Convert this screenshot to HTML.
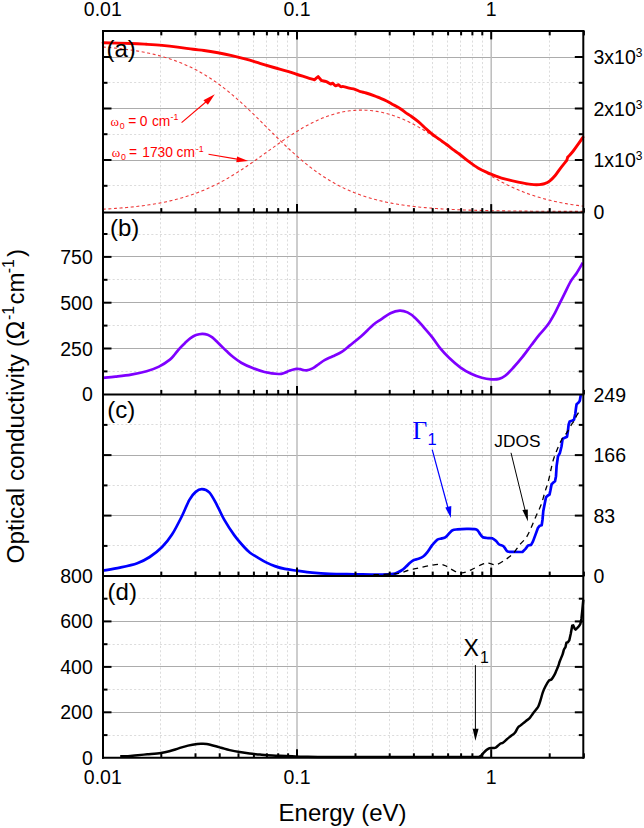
<!DOCTYPE html><html><head><meta charset="utf-8"><style>
*{margin:0;padding:0}
html,body{width:644px;height:828px;background:#fff;overflow:hidden}
svg{display:block;font-family:"Liberation Sans",sans-serif}
.gd{stroke:#dcdcdc;stroke-width:1;stroke-dasharray:2.1 2.2;fill:none}
.gs{stroke:#acacac;stroke-width:1;fill:none}
.gv{stroke:#bcbcbc;stroke-width:1.5;fill:none}
.rd{stroke:#ee3a3a;stroke-width:1.1;stroke-dasharray:3 2.6;fill:none}
.rs{stroke:#f00;stroke-width:2.9;fill:none;stroke-linejoin:round;stroke-linecap:round}
.pu{stroke:#7f00ff;stroke-width:2.7;fill:none;stroke-linejoin:round}
.bl{stroke:#0000ff;stroke-width:2.7;fill:none;stroke-linejoin:round}
.jd{stroke:#000;stroke-width:1.3;stroke-dasharray:5.5 4.5;fill:none}
.bk{stroke:#000;stroke-width:2.5;fill:none;stroke-linejoin:round}
</style></head><body><svg width="644" height="828" viewBox="0 0 644 828"><g><line x1="160.5" y1="31.9" x2="160.5" y2="211.6" class="gd"/><line x1="195.5" y1="31.9" x2="195.5" y2="211.6" class="gd"/><line x1="219.5" y1="31.9" x2="219.5" y2="211.6" class="gd"/><line x1="238.5" y1="31.9" x2="238.5" y2="211.6" class="gd"/><line x1="253.5" y1="31.9" x2="253.5" y2="211.6" class="gd"/><line x1="266.5" y1="31.9" x2="266.5" y2="211.6" class="gd"/><line x1="277.5" y1="31.9" x2="277.5" y2="211.6" class="gd"/><line x1="287.5" y1="31.9" x2="287.5" y2="211.6" class="gd"/><line x1="355.5" y1="31.9" x2="355.5" y2="211.6" class="gd"/><line x1="389.5" y1="31.9" x2="389.5" y2="211.6" class="gd"/><line x1="413.5" y1="31.9" x2="413.5" y2="211.6" class="gd"/><line x1="432.5" y1="31.9" x2="432.5" y2="211.6" class="gd"/><line x1="447.5" y1="31.9" x2="447.5" y2="211.6" class="gd"/><line x1="460.5" y1="31.9" x2="460.5" y2="211.6" class="gd"/><line x1="472.5" y1="31.9" x2="472.5" y2="211.6" class="gd"/><line x1="482.5" y1="31.9" x2="482.5" y2="211.6" class="gd"/><line x1="549.5" y1="31.9" x2="549.5" y2="211.6" class="gd"/><line x1="583.5" y1="31.9" x2="583.5" y2="211.6" class="gd"/><line x1="160.5" y1="213.6" x2="160.5" y2="393.4" class="gd"/><line x1="195.5" y1="213.6" x2="195.5" y2="393.4" class="gd"/><line x1="219.5" y1="213.6" x2="219.5" y2="393.4" class="gd"/><line x1="238.5" y1="213.6" x2="238.5" y2="393.4" class="gd"/><line x1="253.5" y1="213.6" x2="253.5" y2="393.4" class="gd"/><line x1="266.5" y1="213.6" x2="266.5" y2="393.4" class="gd"/><line x1="277.5" y1="213.6" x2="277.5" y2="393.4" class="gd"/><line x1="287.5" y1="213.6" x2="287.5" y2="393.4" class="gd"/><line x1="355.5" y1="213.6" x2="355.5" y2="393.4" class="gd"/><line x1="389.5" y1="213.6" x2="389.5" y2="393.4" class="gd"/><line x1="413.5" y1="213.6" x2="413.5" y2="393.4" class="gd"/><line x1="432.5" y1="213.6" x2="432.5" y2="393.4" class="gd"/><line x1="447.5" y1="213.6" x2="447.5" y2="393.4" class="gd"/><line x1="460.5" y1="213.6" x2="460.5" y2="393.4" class="gd"/><line x1="472.5" y1="213.6" x2="472.5" y2="393.4" class="gd"/><line x1="482.5" y1="213.6" x2="482.5" y2="393.4" class="gd"/><line x1="549.5" y1="213.6" x2="549.5" y2="393.4" class="gd"/><line x1="583.5" y1="213.6" x2="583.5" y2="393.4" class="gd"/><line x1="160.5" y1="395.4" x2="160.5" y2="575.1" class="gd"/><line x1="195.5" y1="395.4" x2="195.5" y2="575.1" class="gd"/><line x1="219.5" y1="395.4" x2="219.5" y2="575.1" class="gd"/><line x1="238.5" y1="395.4" x2="238.5" y2="575.1" class="gd"/><line x1="253.5" y1="395.4" x2="253.5" y2="575.1" class="gd"/><line x1="266.5" y1="395.4" x2="266.5" y2="575.1" class="gd"/><line x1="277.5" y1="395.4" x2="277.5" y2="575.1" class="gd"/><line x1="287.5" y1="395.4" x2="287.5" y2="575.1" class="gd"/><line x1="355.5" y1="395.4" x2="355.5" y2="575.1" class="gd"/><line x1="389.5" y1="395.4" x2="389.5" y2="575.1" class="gd"/><line x1="413.5" y1="395.4" x2="413.5" y2="575.1" class="gd"/><line x1="432.5" y1="395.4" x2="432.5" y2="575.1" class="gd"/><line x1="447.5" y1="395.4" x2="447.5" y2="575.1" class="gd"/><line x1="460.5" y1="395.4" x2="460.5" y2="575.1" class="gd"/><line x1="472.5" y1="395.4" x2="472.5" y2="575.1" class="gd"/><line x1="482.5" y1="395.4" x2="482.5" y2="575.1" class="gd"/><line x1="549.5" y1="395.4" x2="549.5" y2="575.1" class="gd"/><line x1="583.5" y1="395.4" x2="583.5" y2="575.1" class="gd"/><line x1="160.5" y1="577.1" x2="160.5" y2="756.8" class="gd"/><line x1="195.5" y1="577.1" x2="195.5" y2="756.8" class="gd"/><line x1="219.5" y1="577.1" x2="219.5" y2="756.8" class="gd"/><line x1="238.5" y1="577.1" x2="238.5" y2="756.8" class="gd"/><line x1="253.5" y1="577.1" x2="253.5" y2="756.8" class="gd"/><line x1="266.5" y1="577.1" x2="266.5" y2="756.8" class="gd"/><line x1="277.5" y1="577.1" x2="277.5" y2="756.8" class="gd"/><line x1="287.5" y1="577.1" x2="287.5" y2="756.8" class="gd"/><line x1="355.5" y1="577.1" x2="355.5" y2="756.8" class="gd"/><line x1="389.5" y1="577.1" x2="389.5" y2="756.8" class="gd"/><line x1="413.5" y1="577.1" x2="413.5" y2="756.8" class="gd"/><line x1="432.5" y1="577.1" x2="432.5" y2="756.8" class="gd"/><line x1="447.5" y1="577.1" x2="447.5" y2="756.8" class="gd"/><line x1="460.5" y1="577.1" x2="460.5" y2="756.8" class="gd"/><line x1="472.5" y1="577.1" x2="472.5" y2="756.8" class="gd"/><line x1="482.5" y1="577.1" x2="482.5" y2="756.8" class="gd"/><line x1="549.5" y1="577.1" x2="549.5" y2="756.8" class="gd"/><line x1="583.5" y1="577.1" x2="583.5" y2="756.8" class="gd"/><line x1="104.0" y1="185.5" x2="582.3" y2="185.5" class="gd"/><line x1="104.0" y1="134.5" x2="582.3" y2="134.5" class="gd"/><line x1="104.0" y1="82.5" x2="582.3" y2="82.5" class="gd"/><line x1="104.0" y1="371.5" x2="582.3" y2="371.5" class="gd"/><line x1="104.0" y1="325.5" x2="582.3" y2="325.5" class="gd"/><line x1="104.0" y1="279.5" x2="582.3" y2="279.5" class="gd"/><line x1="104.0" y1="234.5" x2="582.3" y2="234.5" class="gd"/><line x1="104.0" y1="545.5" x2="582.3" y2="545.5" class="gd"/><line x1="104.0" y1="485.5" x2="582.3" y2="485.5" class="gd"/><line x1="104.0" y1="424.5" x2="582.3" y2="424.5" class="gd"/><line x1="104.0" y1="735.5" x2="582.3" y2="735.5" class="gd"/><line x1="104.0" y1="689.5" x2="582.3" y2="689.5" class="gd"/><line x1="104.0" y1="644.5" x2="582.3" y2="644.5" class="gd"/><line x1="104.0" y1="598.5" x2="582.3" y2="598.5" class="gd"/><line x1="104.0" y1="160.5" x2="582.3" y2="160.5" class="gs"/><line x1="104.0" y1="108.5" x2="582.3" y2="108.5" class="gs"/><line x1="104.0" y1="57.5" x2="582.3" y2="57.5" class="gs"/><line x1="104.0" y1="348.5" x2="582.3" y2="348.5" class="gs"/><line x1="104.0" y1="302.5" x2="582.3" y2="302.5" class="gs"/><line x1="104.0" y1="256.5" x2="582.3" y2="256.5" class="gs"/><line x1="104.0" y1="515.5" x2="582.3" y2="515.5" class="gs"/><line x1="104.0" y1="455.5" x2="582.3" y2="455.5" class="gs"/><line x1="104.0" y1="712.5" x2="582.3" y2="712.5" class="gs"/><line x1="104.0" y1="666.5" x2="582.3" y2="666.5" class="gs"/><line x1="104.0" y1="621.5" x2="582.3" y2="621.5" class="gs"/><line x1="297.0" y1="31.9" x2="297.0" y2="211.6" class="gv"/><line x1="491.2" y1="31.9" x2="491.2" y2="211.6" class="gv"/><line x1="297.0" y1="213.6" x2="297.0" y2="393.4" class="gv"/><line x1="491.2" y1="213.6" x2="491.2" y2="393.4" class="gv"/><line x1="297.0" y1="395.4" x2="297.0" y2="575.1" class="gv"/><line x1="491.2" y1="395.4" x2="491.2" y2="575.1" class="gv"/><line x1="297.0" y1="577.1" x2="297.0" y2="756.8" class="gv"/><line x1="491.2" y1="577.1" x2="491.2" y2="756.8" class="gv"/></g><path d="M102.80,46.96 L104.40,47.09 L106.01,47.22 L107.61,47.35 L109.21,47.50 L110.82,47.64 L112.42,47.80 L114.02,47.95 L115.63,48.12 L117.23,48.29 L118.84,48.46 L120.44,48.65 L122.04,48.83 L123.65,49.03 L125.25,49.23 L126.85,49.44 L128.46,49.66 L130.06,49.89 L131.66,50.12 L133.27,50.36 L134.87,50.61 L136.47,50.87 L138.08,51.14 L139.68,51.42 L141.28,51.71 L142.89,52.01 L144.49,52.32 L146.10,52.64 L147.70,52.97 L149.30,53.31 L150.91,53.66 L152.51,54.03 L154.11,54.40 L155.72,54.79 L157.32,55.20 L158.92,55.62 L160.53,56.05 L162.13,56.49 L163.73,56.95 L165.34,57.42 L166.94,57.91 L168.54,58.42 L170.15,58.94 L171.75,59.48 L173.36,60.03 L174.96,60.61 L176.56,61.20 L178.17,61.80 L179.77,62.43 L181.37,63.08 L182.98,63.74 L184.58,64.42 L186.18,65.13 L187.79,65.85 L189.39,66.59 L190.99,67.36 L192.60,68.14 L194.20,68.95 L195.80,69.78 L197.41,70.63 L199.01,71.50 L200.61,72.40 L202.22,73.32 L203.82,74.26 L205.43,75.22 L207.03,76.21 L208.63,77.22 L210.24,78.26 L211.84,79.31 L213.44,80.39 L215.05,81.50 L216.65,82.63 L218.25,83.78 L219.86,84.95 L221.46,86.15 L223.06,87.36 L224.67,88.61 L226.27,89.87 L227.87,91.15 L229.48,92.46 L231.08,93.79 L232.69,95.14 L234.29,96.50 L235.89,97.89 L237.50,99.30 L239.10,100.72 L240.70,102.16 L242.31,103.62 L243.91,105.10 L245.51,106.58 L247.12,108.09 L248.72,109.60 L250.32,111.13 L251.93,112.67 L253.53,114.22 L255.13,115.79 L256.74,117.35 L258.34,118.93 L259.95,120.51 L261.55,122.10 L263.15,123.69 L264.76,125.28 L266.36,126.88 L267.96,128.48 L269.57,130.07 L271.17,131.66 L272.77,133.25 L274.38,134.84 L275.98,136.42 L277.58,138.00 L279.19,139.56 L280.79,141.12 L282.39,142.67 L284.00,144.21 L285.60,145.74 L287.21,147.25 L288.81,148.75 L290.41,150.24 L292.02,151.71 L293.62,153.17 L295.22,154.61 L296.83,156.03 L298.43,157.43 L300.03,158.82 L301.64,160.18 L303.24,161.53 L304.84,162.85 L306.45,164.15 L308.05,165.44 L309.65,166.70 L311.26,167.93 L312.86,169.15 L314.47,170.34 L316.07,171.51 L317.67,172.66 L319.28,173.78 L320.88,174.88 L322.48,175.96 L324.09,177.01 L325.69,178.04 L327.29,179.05 L328.90,180.03 L330.50,181.00 L332.10,181.93 L333.71,182.85 L335.31,183.74 L336.91,184.61 L338.52,185.46 L340.12,186.28 L341.72,187.09 L343.33,187.87 L344.93,188.63 L346.54,189.37 L348.14,190.09 L349.74,190.79 L351.35,191.47 L352.95,192.13 L354.55,192.78 L356.16,193.40 L357.76,194.00 L359.36,194.59 L360.97,195.16 L362.57,195.71 L364.17,196.25 L365.78,196.77 L367.38,197.27 L368.98,197.76 L370.59,198.23 L372.19,198.69 L373.80,199.13 L375.40,199.56 L377.00,199.97 L378.61,200.38 L380.21,200.76 L381.81,201.14 L383.42,201.50 L385.02,201.86 L386.62,202.20 L388.23,202.52 L389.83,202.84 L391.43,203.15 L393.04,203.45 L394.64,203.73 L396.24,204.01 L397.85,204.28 L399.45,204.53 L401.06,204.78 L402.66,205.03 L404.26,205.26 L405.87,205.48 L407.47,205.70 L409.07,205.91 L410.68,206.11 L412.28,206.31 L413.88,206.49 L415.49,206.67 L417.09,206.85 L418.69,207.02 L420.30,207.18 L421.90,207.34 L423.50,207.49 L425.11,207.64 L426.71,207.78 L428.32,207.91 L429.92,208.04 L431.52,208.17 L433.13,208.29 L434.73,208.41 L436.33,208.52 L437.94,208.63 L439.54,208.74 L441.14,208.84 L442.75,208.94 L444.35,209.03 L445.95,209.12 L447.56,209.21 L449.16,209.29 L450.76,209.37 L452.37,209.45 L453.97,209.53 L455.58,209.60 L457.18,209.67 L458.78,209.74 L460.39,209.80 L461.99,209.87 L463.59,209.93 L465.20,209.99 L466.80,210.04 L468.40,210.10 L470.01,210.15 L471.61,210.20 L473.21,210.25 L474.82,210.29 L476.42,210.34 L478.02,210.38 L479.63,210.42 L481.23,210.46 L482.83,210.50 L484.44,210.54 L486.04,210.57 L487.65,210.61 L489.25,210.64 L490.85,210.67 L492.46,210.70 L494.06,210.73 L495.66,210.76 L497.27,210.79 L498.87,210.81 L500.47,210.84 L502.08,210.86 L503.68,210.89 L505.28,210.91 L506.89,210.93 L508.49,210.95 L510.09,210.97 L511.70,210.99 L513.30,211.01 L514.91,211.03 L516.51,211.05 L518.11,211.07 L519.72,211.08 L521.32,211.10 L522.92,211.11 L524.53,211.13 L526.13,211.14 L527.73,211.15 L529.34,211.17 L530.94,211.18 L532.54,211.19 L534.15,211.20 L535.75,211.21 L537.35,211.22 L538.96,211.23 L540.56,211.24 L542.17,211.25 L543.77,211.26 L545.37,211.27 L546.98,211.28 L548.58,211.29 L550.18,211.30 L551.79,211.30 L553.39,211.31 L554.99,211.32 L556.60,211.33 L558.20,211.33 L559.80,211.34 L561.41,211.34 L563.01,211.35 L564.61,211.36 L566.22,211.36 L567.82,211.37 L569.43,211.37 L571.03,211.38 L572.63,211.38 L574.24,211.38 L575.84,211.39 L577.44,211.39 L579.05,211.40 L580.65,211.40 L582.25,211.40 L583.86,211.41" class="rd"/><path d="M102.80,209.20 L104.40,209.11 L106.01,209.02 L107.61,208.92 L109.21,208.83 L110.82,208.72 L112.42,208.62 L114.02,208.51 L115.63,208.40 L117.23,208.28 L118.84,208.16 L120.44,208.03 L122.04,207.90 L123.65,207.77 L125.25,207.63 L126.85,207.48 L128.46,207.33 L130.06,207.18 L131.66,207.01 L133.27,206.85 L134.87,206.67 L136.47,206.49 L138.08,206.31 L139.68,206.11 L141.28,205.92 L142.89,205.71 L144.49,205.50 L146.10,205.27 L147.70,205.05 L149.30,204.81 L150.91,204.56 L152.51,204.31 L154.11,204.05 L155.72,203.78 L157.32,203.50 L158.92,203.21 L160.53,202.91 L162.13,202.60 L163.73,202.28 L165.34,201.95 L166.94,201.61 L168.54,201.26 L170.15,200.89 L171.75,200.52 L173.36,200.13 L174.96,199.73 L176.56,199.32 L178.17,198.90 L179.77,198.46 L181.37,198.01 L182.98,197.55 L184.58,197.07 L186.18,196.58 L187.79,196.07 L189.39,195.55 L190.99,195.01 L192.60,194.46 L194.20,193.89 L195.80,193.31 L197.41,192.71 L199.01,192.10 L200.61,191.47 L202.22,190.82 L203.82,190.16 L205.43,189.48 L207.03,188.78 L208.63,188.06 L210.24,187.33 L211.84,186.58 L213.44,185.82 L215.05,185.04 L216.65,184.24 L218.25,183.42 L219.86,182.58 L221.46,181.73 L223.06,180.87 L224.67,179.98 L226.27,179.08 L227.87,178.16 L229.48,177.23 L231.08,176.28 L232.69,175.31 L234.29,174.33 L235.89,173.34 L237.50,172.33 L239.10,171.30 L240.70,170.27 L242.31,169.22 L243.91,168.16 L245.51,167.08 L247.12,166.00 L248.72,164.90 L250.32,163.80 L251.93,162.68 L253.53,161.56 L255.13,160.43 L256.74,159.30 L258.34,158.16 L259.95,157.01 L261.55,155.86 L263.15,154.70 L264.76,153.55 L266.36,152.39 L267.96,151.23 L269.57,150.08 L271.17,148.92 L272.77,147.77 L274.38,146.62 L275.98,145.47 L277.58,144.33 L279.19,143.20 L280.79,142.07 L282.39,140.96 L284.00,139.85 L285.60,138.75 L287.21,137.66 L288.81,136.59 L290.41,135.53 L292.02,134.48 L293.62,133.45 L295.22,132.43 L296.83,131.42 L298.43,130.44 L300.03,129.47 L301.64,128.52 L303.24,127.59 L304.84,126.68 L306.45,125.79 L308.05,124.92 L309.65,124.07 L311.26,123.24 L312.86,122.43 L314.47,121.65 L316.07,120.89 L317.67,120.16 L319.28,119.45 L320.88,118.76 L322.48,118.10 L324.09,117.46 L325.69,116.85 L327.29,116.26 L328.90,115.70 L330.50,115.16 L332.10,114.65 L333.71,114.17 L335.31,113.71 L336.91,113.28 L338.52,112.88 L340.12,112.51 L341.72,112.16 L343.33,111.83 L344.93,111.54 L346.54,111.27 L348.14,111.03 L349.74,110.82 L351.35,110.63 L352.95,110.48 L354.55,110.34 L356.16,110.24 L357.76,110.17 L359.36,110.12 L360.97,110.10 L362.57,110.10 L364.17,110.14 L365.78,110.20 L367.38,110.29 L368.98,110.41 L370.59,110.55 L372.19,110.72 L373.80,110.92 L375.40,111.15 L377.00,111.40 L378.61,111.69 L380.21,111.99 L381.81,112.33 L383.42,112.69 L385.02,113.08 L386.62,113.50 L388.23,113.94 L389.83,114.41 L391.43,114.91 L393.04,115.43 L394.64,115.98 L396.24,116.55 L397.85,117.15 L399.45,117.78 L401.06,118.43 L402.66,119.10 L404.26,119.80 L405.87,120.53 L407.47,121.27 L409.07,122.04 L410.68,122.84 L412.28,123.66 L413.88,124.49 L415.49,125.35 L417.09,126.24 L418.69,127.14 L420.30,128.06 L421.90,129.00 L423.50,129.96 L425.11,130.94 L426.71,131.93 L428.32,132.94 L429.92,133.97 L431.52,135.01 L433.13,136.06 L434.73,137.13 L436.33,138.21 L437.94,139.31 L439.54,140.41 L441.14,141.52 L442.75,142.64 L444.35,143.77 L445.95,144.91 L447.56,146.05 L449.16,147.20 L450.76,148.35 L452.37,149.50 L453.97,150.66 L455.58,151.82 L457.18,152.98 L458.78,154.13 L460.39,155.29 L461.99,156.44 L463.59,157.59 L465.20,158.73 L466.80,159.87 L468.40,161.01 L470.01,162.13 L471.61,163.25 L473.21,164.36 L474.82,165.46 L476.42,166.55 L478.02,167.63 L479.63,168.69 L481.23,169.75 L482.83,170.79 L484.44,171.82 L486.04,172.84 L487.65,173.84 L489.25,174.83 L490.85,175.80 L492.46,176.76 L494.06,177.70 L495.66,178.63 L497.27,179.54 L498.87,180.43 L500.47,181.31 L502.08,182.17 L503.68,183.01 L505.28,183.83 L506.89,184.64 L508.49,185.43 L510.09,186.21 L511.70,186.97 L513.30,187.71 L514.91,188.43 L516.51,189.13 L518.11,189.82 L519.72,190.49 L521.32,191.15 L522.92,191.79 L524.53,192.41 L526.13,193.02 L527.73,193.61 L529.34,194.18 L530.94,194.74 L532.54,195.29 L534.15,195.81 L535.75,196.33 L537.35,196.83 L538.96,197.31 L540.56,197.78 L542.17,198.24 L543.77,198.68 L545.37,199.11 L546.98,199.53 L548.58,199.94 L550.18,200.33 L551.79,200.71 L553.39,201.08 L554.99,201.44 L556.60,201.78 L558.20,202.12 L559.80,202.44 L561.41,202.76 L563.01,203.06 L564.61,203.36 L566.22,203.64 L567.82,203.92 L569.43,204.18 L571.03,204.44 L572.63,204.69 L574.24,204.93 L575.84,205.16 L577.44,205.39 L579.05,205.60 L580.65,205.81 L582.25,206.02 L583.86,206.21" class="rd"/><path d="M103.10,42.80 C107.77,42.92 123.85,43.25 131.10,43.50 C138.35,43.75 141.43,43.98 146.60,44.30 C151.77,44.62 156.93,44.93 162.10,45.40 C167.27,45.87 172.42,46.45 177.60,47.10 C182.78,47.75 188.80,48.73 193.20,49.30 C197.60,49.87 199.87,49.92 204.00,50.50 C208.13,51.08 213.35,51.95 218.00,52.80 C222.65,53.65 227.25,54.55 231.90,55.60 C236.55,56.65 241.23,57.82 245.90,59.10 C250.57,60.38 255.23,61.90 259.90,63.30 C264.57,64.70 269.25,66.15 273.90,67.50 C278.55,68.85 283.92,70.23 287.80,71.40 C291.68,72.57 294.08,73.52 297.20,74.50 C300.32,75.48 303.63,76.42 306.50,77.30 C309.37,78.18 313.08,79.38 314.40,79.80 L316.30,78.20 L318.20,76.60 L321.40,80.50 L321.40,80.50 C322.23,80.70 324.85,81.12 326.40,81.70 C327.95,82.28 329.67,83.75 330.70,84.00 C331.73,84.25 331.77,82.90 332.60,83.20 C333.43,83.50 334.73,85.53 335.70,85.80 C336.67,86.07 337.55,84.65 338.40,84.80 C339.25,84.95 339.95,86.40 340.80,86.70 C341.65,87.00 342.08,86.35 343.50,86.60 C344.92,86.85 347.40,87.75 349.30,88.20 C351.20,88.65 353.03,88.73 354.90,89.30 C356.77,89.87 358.63,90.98 360.50,91.60 C362.37,92.22 363.77,92.30 366.10,93.00 C368.43,93.70 372.33,95.02 374.50,95.80 C376.67,96.58 377.08,96.83 379.10,97.70 C381.12,98.57 384.42,99.92 386.60,101.00 C388.78,102.08 389.97,102.97 392.20,104.20 C394.43,105.43 397.77,107.00 400.00,108.40 C402.23,109.80 403.73,111.28 405.60,112.60 C407.47,113.92 409.03,114.75 411.20,116.30 C413.37,117.85 416.12,119.80 418.60,121.90 C421.08,124.00 423.77,126.80 426.10,128.90 C428.43,131.00 430.43,132.80 432.60,134.50 C434.77,136.20 436.77,137.43 439.10,139.10 C441.43,140.77 444.27,142.75 446.60,144.50 C448.93,146.25 450.98,148.02 453.10,149.60 C455.22,151.18 456.72,152.03 459.30,154.00 C461.88,155.97 465.48,159.07 468.60,161.40 C471.72,163.73 474.88,166.13 478.00,168.00 C481.12,169.87 484.20,171.22 487.30,172.60 C490.40,173.98 493.57,175.20 496.60,176.30 C499.63,177.40 501.90,178.23 505.50,179.20 C509.10,180.17 513.88,181.23 518.20,182.10 C522.52,182.97 527.88,183.98 531.40,184.40 C534.92,184.82 537.10,184.73 539.30,184.60 C541.50,184.47 542.83,184.23 544.60,183.60 C546.37,182.97 548.13,182.15 549.90,180.80 C551.67,179.45 553.45,177.58 555.20,175.50 C556.95,173.42 558.65,170.60 560.40,168.30 C562.15,166.00 564.60,163.13 565.70,161.70 C566.80,160.27 566.78,160.03 567.00,159.70 L567.70,157.10 C568.03,156.77 568.72,156.20 569.70,155.10 C570.68,154.00 572.07,152.48 573.60,150.50 C575.13,148.52 577.35,145.40 578.90,143.20 C580.45,141.00 582.23,138.28 582.90,137.30" class="rs"/><path d="M103.10,377.80 C105.17,377.62 110.83,377.22 115.50,376.70 C120.17,376.18 125.92,375.62 131.10,374.70 C136.28,373.78 141.95,372.55 146.60,371.20 C151.25,369.85 155.12,368.53 159.00,366.60 C162.88,364.67 167.23,361.68 169.90,359.60 C172.57,357.52 173.37,355.98 175.00,354.10 C176.63,352.22 178.02,350.17 179.70,348.30 C181.38,346.43 183.30,344.58 185.10,342.90 C186.90,341.22 188.68,339.50 190.50,338.20 C192.32,336.90 194.05,335.83 196.00,335.10 C197.95,334.37 200.27,333.87 202.20,333.80 C204.13,333.73 205.92,334.10 207.60,334.70 C209.28,335.30 210.62,336.10 212.30,337.40 C213.98,338.70 216.02,340.88 217.70,342.50 C219.38,344.12 220.93,345.68 222.40,347.10 C223.87,348.52 224.65,349.30 226.50,351.00 C228.35,352.70 231.05,355.35 233.50,357.30 C235.95,359.25 238.10,360.95 241.20,362.70 C244.30,364.45 248.22,366.25 252.10,367.80 C255.98,369.35 260.10,370.97 264.50,372.00 C268.90,373.03 275.13,373.87 278.50,374.00 C281.87,374.13 282.88,373.33 284.70,372.80 C286.52,372.27 287.47,371.45 289.40,370.80 C291.33,370.15 294.50,369.17 296.30,368.90 C298.10,368.63 298.52,368.95 300.20,369.20 C301.88,369.45 304.33,370.53 306.40,370.40 C308.47,370.27 310.53,369.45 312.60,368.40 C314.67,367.35 316.73,365.52 318.80,364.10 C320.87,362.68 322.67,361.20 325.00,359.90 C327.33,358.60 329.95,357.68 332.80,356.30 C335.65,354.92 339.25,353.42 342.10,351.60 C344.95,349.78 346.77,347.92 349.90,345.40 C353.03,342.88 357.00,339.93 360.90,336.50 C364.80,333.07 369.93,327.65 373.30,324.80 C376.67,321.95 378.25,321.33 381.10,319.40 C383.95,317.47 387.30,314.67 390.40,313.20 C393.50,311.73 396.85,310.73 399.70,310.60 C402.55,310.47 404.92,311.18 407.50,312.40 C410.08,313.62 412.62,315.57 415.20,317.90 C417.78,320.23 420.15,323.17 423.00,326.40 C425.85,329.63 429.45,333.68 432.30,337.30 C435.15,340.92 437.27,344.65 440.10,348.10 C442.93,351.55 445.95,354.80 449.30,358.00 C452.65,361.20 456.57,364.67 460.20,367.30 C463.83,369.93 467.48,372.05 471.10,373.80 C474.72,375.55 478.55,376.88 481.90,377.80 C485.25,378.72 488.35,379.12 491.20,379.30 C494.05,379.48 496.67,379.48 499.00,378.90 C501.33,378.32 502.87,377.62 505.20,375.80 C507.53,373.98 510.15,371.10 513.00,368.00 C515.85,364.90 519.20,361.07 522.30,357.20 C525.40,353.33 528.75,348.55 531.60,344.80 C534.45,341.05 536.70,338.03 539.40,334.70 C542.10,331.37 545.20,328.45 547.80,324.80 C550.40,321.15 553.00,316.42 555.00,312.80 C557.00,309.18 558.18,306.33 559.80,303.10 C561.42,299.87 562.88,297.02 564.70,293.40 C566.52,289.78 568.70,284.82 570.70,281.40 C572.70,277.98 574.68,276.02 576.70,272.90 C578.72,269.78 581.78,264.40 582.80,262.70" class="pu"/><path d="M103.00,570.60 C105.82,570.10 114.18,568.83 119.90,567.60 C125.62,566.37 132.33,564.97 137.30,563.20 C142.27,561.43 145.57,559.70 149.70,557.00 C153.83,554.30 158.38,550.73 162.10,547.00 C165.82,543.27 168.68,539.77 172.00,534.60 C175.32,529.43 179.10,521.80 182.00,516.00 C184.90,510.20 187.12,503.82 189.40,499.80 C191.68,495.78 193.62,493.68 195.70,491.90 C197.78,490.12 199.63,489.02 201.90,489.10 C204.17,489.18 206.82,489.78 209.30,492.40 C211.78,495.02 214.32,500.25 216.80,504.80 C219.28,509.35 221.30,514.65 224.20,519.70 C227.10,524.75 230.88,530.55 234.20,535.10 C237.52,539.65 241.47,544.07 244.10,547.00 C246.73,549.93 247.77,550.97 250.00,552.70 C252.23,554.43 254.82,555.78 257.50,557.40 C260.18,559.02 263.22,560.95 266.10,562.40 C268.98,563.85 271.68,565.02 274.80,566.10 C277.92,567.18 281.07,568.13 284.80,568.90 C288.53,569.67 292.65,570.08 297.20,570.70 C301.75,571.32 306.72,572.08 312.10,572.60 C317.48,573.12 322.38,573.52 329.50,573.80 C336.62,574.08 346.95,574.15 354.80,574.30 C362.65,574.45 370.90,574.70 376.60,574.70 C382.30,574.70 385.90,574.48 389.00,574.30 C392.10,574.12 393.13,574.23 395.20,573.60 C397.27,572.97 399.58,571.67 401.40,570.50 C403.22,569.33 404.67,567.90 406.10,566.60 C407.53,565.30 408.70,563.78 410.00,562.70 C411.30,561.62 412.48,560.75 413.90,560.10 C415.32,559.45 416.95,559.40 418.50,558.80 C420.05,558.20 421.78,557.53 423.20,556.50 C424.62,555.47 425.47,554.53 427.00,552.60 C428.53,550.67 430.72,547.03 432.40,544.90 C434.08,542.77 435.55,540.88 437.10,539.80 C438.65,538.72 440.28,538.83 441.70,538.40 C443.12,537.97 444.30,538.10 445.60,537.20 C446.90,536.30 448.33,534.17 449.50,533.00 C450.67,531.83 451.30,530.80 452.60,530.20 C453.90,529.60 454.97,529.62 457.30,529.40 C459.63,529.18 463.77,528.95 466.60,528.90 C469.43,528.85 472.48,528.88 474.30,529.10 C476.12,529.32 476.45,529.25 477.50,530.20 C478.55,531.15 479.70,533.63 480.60,534.80 C481.50,535.97 481.87,536.67 482.90,537.20 C483.93,537.73 485.25,537.82 486.80,538.00 C488.35,538.18 490.65,537.78 492.20,538.30 C493.75,538.82 494.93,540.07 496.10,541.10 C497.27,542.13 498.03,543.68 499.20,544.50 C500.37,545.32 502.07,545.28 503.10,546.00 C504.13,546.72 504.63,547.87 505.40,548.80 C506.17,549.73 506.40,551.08 507.70,551.60 C509.00,552.12 510.75,551.83 513.20,551.90 C515.65,551.97 520.87,551.98 522.40,552.00 L525.50,548.90 L528.00,545.50 L531.10,544.90 L533.00,541.40 L535.50,534.60 L538.00,527.80 L539.80,525.70 L541.70,525.30 L542.50,519.70 L543.30,511.00 L544.50,504.80 L546.00,497.30 L547.90,495.50 L549.50,494.60 L550.40,490.50 L551.60,484.30 L553.50,482.40 L555.00,481.20 L556.00,476.20 L556.60,466.10 L558.00,456.30 L559.90,453.00 L561.50,446.50 L562.60,438.90 L564.80,437.80 L567.00,436.70 L567.80,431.80 L568.60,424.80 L569.70,421.50 L571.80,420.70 L574.00,419.80 L575.30,413.70 L576.00,408.00 L576.60,404.20 L578.60,402.50 L579.80,400.70 L580.30,397.80 L580.80,395.00" class="bl"/><path d="M373.50,574.70 C376.60,574.58 387.45,574.32 392.10,574.00 C396.75,573.68 398.82,573.38 401.40,572.80 C403.98,572.22 405.00,571.23 407.60,570.50 C410.20,569.77 413.38,569.22 417.00,568.40 C420.62,567.58 425.43,566.28 429.30,565.60 C433.17,564.92 437.35,564.20 440.20,564.30 C443.05,564.40 444.07,565.10 446.40,566.20 C448.73,567.30 451.62,569.78 454.20,570.90 C456.78,572.02 459.07,573.08 461.90,572.90 C464.73,572.72 467.83,571.23 471.20,569.80 C474.57,568.37 479.25,565.42 482.10,564.30 C484.95,563.18 485.97,563.03 488.30,563.10 C490.63,563.17 493.25,565.27 496.10,564.70 C498.95,564.13 502.55,561.57 505.40,559.70 C508.25,557.83 510.78,556.03 513.20,553.50 C515.62,550.97 517.75,547.13 519.90,544.50 C522.05,541.87 524.23,540.48 526.10,537.70 C527.97,534.92 529.43,531.42 531.10,527.80 C532.77,524.18 534.43,519.83 536.10,516.00 C537.77,512.17 539.65,508.73 541.10,504.80 C542.55,500.87 543.57,496.43 544.80,492.40 C546.03,488.37 547.17,485.72 548.50,480.60 C549.83,475.48 551.45,466.65 552.80,461.70 C554.15,456.75 555.15,454.52 556.60,450.90 C558.05,447.28 559.77,443.08 561.50,440.00 C563.23,436.92 565.37,434.93 567.00,432.40 C568.63,429.87 570.03,426.80 571.30,424.80 C572.57,422.80 573.70,421.95 574.60,420.40 C575.50,418.85 575.87,417.10 576.70,415.50 C577.53,413.90 579.12,411.58 579.60,410.80" class="jd"/><path d="M120.20,756.20 L128.00,756.20 L128.00,756.20 C129.13,756.08 131.58,755.82 134.80,755.50 C138.02,755.18 142.95,754.73 147.30,754.30 C151.65,753.87 157.23,753.42 160.90,752.90 C164.57,752.38 166.35,751.95 169.30,751.20 C172.25,750.45 175.48,749.33 178.60,748.40 C181.72,747.47 184.88,746.35 188.00,745.60 C191.12,744.85 194.88,744.22 197.30,743.90 C199.72,743.58 200.95,743.67 202.50,743.70 C204.05,743.73 204.37,743.67 206.60,744.10 C208.83,744.53 213.33,745.65 215.90,746.30 C218.47,746.95 219.70,747.37 222.00,748.00 C224.30,748.63 226.77,749.42 229.70,750.10 C232.63,750.78 236.28,751.52 239.60,752.10 C242.92,752.68 246.20,753.18 249.60,753.60 C253.00,754.02 257.03,754.33 260.00,754.60 C262.97,754.87 264.10,755.00 267.40,755.20 C270.70,755.40 275.65,755.62 279.80,755.80 C283.95,755.98 288.15,756.15 292.30,756.30 C296.45,756.45 298.42,756.58 304.70,756.70 C310.98,756.82 314.12,756.95 330.00,757.00 C345.88,757.05 376.35,757.00 400.00,757.00 C423.65,757.00 458.60,757.08 471.90,757.00 C485.20,756.92 477.95,757.08 479.80,756.50 C481.65,755.92 481.93,754.53 483.00,753.50 C484.07,752.47 485.13,751.18 486.20,750.30 C487.27,749.42 487.93,748.60 489.40,748.20 C490.87,747.80 493.53,748.35 495.00,747.90 C496.47,747.45 497.27,746.23 498.20,745.50 C499.13,744.77 499.82,743.95 500.60,743.50 C501.38,743.05 501.85,743.52 502.90,742.80 C503.95,742.08 505.57,740.33 506.90,739.20 C508.23,738.07 509.57,737.07 510.90,736.00 C512.23,734.93 513.72,734.22 514.90,732.80 C516.08,731.38 517.00,728.78 518.00,727.50 C519.00,726.22 519.57,726.20 520.90,725.10 C522.23,724.00 524.58,722.02 526.00,720.90 C527.42,719.78 528.27,719.60 529.40,718.40 C530.53,717.20 531.75,715.12 532.80,713.70 C533.85,712.28 534.78,711.10 535.70,709.90 C536.62,708.70 537.52,708.05 538.30,706.50 C539.08,704.95 539.63,703.00 540.40,700.60 C541.17,698.20 542.05,694.50 542.90,692.10 C543.75,689.70 544.52,688.10 545.50,686.20 C546.48,684.30 547.82,681.82 548.80,680.70 C549.78,679.58 550.48,680.42 551.40,679.50 C552.32,678.58 553.45,676.75 554.30,675.20 C555.15,673.65 555.78,671.88 556.50,670.20 C557.22,668.52 558.07,666.55 558.60,665.10 C559.13,663.65 559.03,663.30 559.70,661.50 C560.37,659.70 561.88,656.32 562.60,654.30 C563.32,652.28 563.52,650.62 564.00,649.40 C564.48,648.18 565.25,647.40 565.50,647.00 L566.40,642.70 L567.90,642.20 L569.30,640.20 L570.80,633.50 L572.20,625.70 L573.20,625.30 L574.60,628.60 L575.60,629.60 L577.10,628.20 L579.00,626.20 L580.40,623.80 L581.40,619.00 L582.40,609.30 L583.30,599.70" class="bk"/><g stroke="#000" stroke-width="2" fill="none"><line x1="102.0" y1="30.9" x2="584.3" y2="30.9"/><line x1="102.0" y1="212.6" x2="584.3" y2="212.6"/><line x1="102.0" y1="394.4" x2="584.3" y2="394.4"/><line x1="102.0" y1="576.1" x2="584.3" y2="576.1"/><line x1="102.0" y1="757.8" x2="584.3" y2="757.8"/><line x1="103.0" y1="29.9" x2="103.0" y2="758.8"/><line x1="583.3" y1="29.9" x2="583.3" y2="758.8"/><line x1="297.0" y1="30.9" x2="297.0" y2="39.4"/><line x1="491.2" y1="30.9" x2="491.2" y2="39.4"/><line x1="161.3" y1="30.9" x2="161.3" y2="35.4"/><line x1="195.5" y1="30.9" x2="195.5" y2="35.4"/><line x1="219.7" y1="30.9" x2="219.7" y2="35.4"/><line x1="238.5" y1="30.9" x2="238.5" y2="35.4"/><line x1="253.9" y1="30.9" x2="253.9" y2="35.4"/><line x1="266.9" y1="30.9" x2="266.9" y2="35.4"/><line x1="278.2" y1="30.9" x2="278.2" y2="35.4"/><line x1="288.1" y1="30.9" x2="288.1" y2="35.4"/><line x1="355.5" y1="30.9" x2="355.5" y2="35.4"/><line x1="389.7" y1="30.9" x2="389.7" y2="35.4"/><line x1="413.9" y1="30.9" x2="413.9" y2="35.4"/><line x1="432.7" y1="30.9" x2="432.7" y2="35.4"/><line x1="448.1" y1="30.9" x2="448.1" y2="35.4"/><line x1="461.1" y1="30.9" x2="461.1" y2="35.4"/><line x1="472.4" y1="30.9" x2="472.4" y2="35.4"/><line x1="482.3" y1="30.9" x2="482.3" y2="35.4"/><line x1="549.7" y1="30.9" x2="549.7" y2="35.4"/><line x1="583.9" y1="30.9" x2="583.9" y2="35.4"/><line x1="297.0" y1="212.6" x2="297.0" y2="204.1"/><line x1="491.2" y1="212.6" x2="491.2" y2="204.1"/><line x1="161.3" y1="212.6" x2="161.3" y2="208.1"/><line x1="195.5" y1="212.6" x2="195.5" y2="208.1"/><line x1="219.7" y1="212.6" x2="219.7" y2="208.1"/><line x1="238.5" y1="212.6" x2="238.5" y2="208.1"/><line x1="253.9" y1="212.6" x2="253.9" y2="208.1"/><line x1="266.9" y1="212.6" x2="266.9" y2="208.1"/><line x1="278.2" y1="212.6" x2="278.2" y2="208.1"/><line x1="288.1" y1="212.6" x2="288.1" y2="208.1"/><line x1="355.5" y1="212.6" x2="355.5" y2="208.1"/><line x1="389.7" y1="212.6" x2="389.7" y2="208.1"/><line x1="413.9" y1="212.6" x2="413.9" y2="208.1"/><line x1="432.7" y1="212.6" x2="432.7" y2="208.1"/><line x1="448.1" y1="212.6" x2="448.1" y2="208.1"/><line x1="461.1" y1="212.6" x2="461.1" y2="208.1"/><line x1="472.4" y1="212.6" x2="472.4" y2="208.1"/><line x1="482.3" y1="212.6" x2="482.3" y2="208.1"/><line x1="549.7" y1="212.6" x2="549.7" y2="208.1"/><line x1="583.9" y1="212.6" x2="583.9" y2="208.1"/><line x1="297.0" y1="394.4" x2="297.0" y2="385.9"/><line x1="491.2" y1="394.4" x2="491.2" y2="385.9"/><line x1="161.3" y1="394.4" x2="161.3" y2="389.9"/><line x1="195.5" y1="394.4" x2="195.5" y2="389.9"/><line x1="219.7" y1="394.4" x2="219.7" y2="389.9"/><line x1="238.5" y1="394.4" x2="238.5" y2="389.9"/><line x1="253.9" y1="394.4" x2="253.9" y2="389.9"/><line x1="266.9" y1="394.4" x2="266.9" y2="389.9"/><line x1="278.2" y1="394.4" x2="278.2" y2="389.9"/><line x1="288.1" y1="394.4" x2="288.1" y2="389.9"/><line x1="355.5" y1="394.4" x2="355.5" y2="389.9"/><line x1="389.7" y1="394.4" x2="389.7" y2="389.9"/><line x1="413.9" y1="394.4" x2="413.9" y2="389.9"/><line x1="432.7" y1="394.4" x2="432.7" y2="389.9"/><line x1="448.1" y1="394.4" x2="448.1" y2="389.9"/><line x1="461.1" y1="394.4" x2="461.1" y2="389.9"/><line x1="472.4" y1="394.4" x2="472.4" y2="389.9"/><line x1="482.3" y1="394.4" x2="482.3" y2="389.9"/><line x1="549.7" y1="394.4" x2="549.7" y2="389.9"/><line x1="583.9" y1="394.4" x2="583.9" y2="389.9"/><line x1="297.0" y1="576.1" x2="297.0" y2="567.6"/><line x1="491.2" y1="576.1" x2="491.2" y2="567.6"/><line x1="161.3" y1="576.1" x2="161.3" y2="571.6"/><line x1="195.5" y1="576.1" x2="195.5" y2="571.6"/><line x1="219.7" y1="576.1" x2="219.7" y2="571.6"/><line x1="238.5" y1="576.1" x2="238.5" y2="571.6"/><line x1="253.9" y1="576.1" x2="253.9" y2="571.6"/><line x1="266.9" y1="576.1" x2="266.9" y2="571.6"/><line x1="278.2" y1="576.1" x2="278.2" y2="571.6"/><line x1="288.1" y1="576.1" x2="288.1" y2="571.6"/><line x1="355.5" y1="576.1" x2="355.5" y2="571.6"/><line x1="389.7" y1="576.1" x2="389.7" y2="571.6"/><line x1="413.9" y1="576.1" x2="413.9" y2="571.6"/><line x1="432.7" y1="576.1" x2="432.7" y2="571.6"/><line x1="448.1" y1="576.1" x2="448.1" y2="571.6"/><line x1="461.1" y1="576.1" x2="461.1" y2="571.6"/><line x1="472.4" y1="576.1" x2="472.4" y2="571.6"/><line x1="482.3" y1="576.1" x2="482.3" y2="571.6"/><line x1="549.7" y1="576.1" x2="549.7" y2="571.6"/><line x1="583.9" y1="576.1" x2="583.9" y2="571.6"/><line x1="297.0" y1="757.8" x2="297.0" y2="749.3"/><line x1="491.2" y1="757.8" x2="491.2" y2="749.3"/><line x1="161.3" y1="757.8" x2="161.3" y2="753.3"/><line x1="195.5" y1="757.8" x2="195.5" y2="753.3"/><line x1="219.7" y1="757.8" x2="219.7" y2="753.3"/><line x1="238.5" y1="757.8" x2="238.5" y2="753.3"/><line x1="253.9" y1="757.8" x2="253.9" y2="753.3"/><line x1="266.9" y1="757.8" x2="266.9" y2="753.3"/><line x1="278.2" y1="757.8" x2="278.2" y2="753.3"/><line x1="288.1" y1="757.8" x2="288.1" y2="753.3"/><line x1="355.5" y1="757.8" x2="355.5" y2="753.3"/><line x1="389.7" y1="757.8" x2="389.7" y2="753.3"/><line x1="413.9" y1="757.8" x2="413.9" y2="753.3"/><line x1="432.7" y1="757.8" x2="432.7" y2="753.3"/><line x1="448.1" y1="757.8" x2="448.1" y2="753.3"/><line x1="461.1" y1="757.8" x2="461.1" y2="753.3"/><line x1="472.4" y1="757.8" x2="472.4" y2="753.3"/><line x1="482.3" y1="757.8" x2="482.3" y2="753.3"/><line x1="549.7" y1="757.8" x2="549.7" y2="753.3"/><line x1="583.9" y1="757.8" x2="583.9" y2="753.3"/><line x1="103.0" y1="185.8" x2="107.5" y2="185.8"/><line x1="583.3" y1="185.8" x2="578.8" y2="185.8"/><line x1="103.0" y1="134.2" x2="107.5" y2="134.2"/><line x1="583.3" y1="134.2" x2="578.8" y2="134.2"/><line x1="103.0" y1="82.8" x2="107.5" y2="82.8"/><line x1="583.3" y1="82.8" x2="578.8" y2="82.8"/><line x1="103.0" y1="160.0" x2="111.5" y2="160.0"/><line x1="583.3" y1="160.0" x2="574.8" y2="160.0"/><line x1="103.0" y1="108.5" x2="111.5" y2="108.5"/><line x1="583.3" y1="108.5" x2="574.8" y2="108.5"/><line x1="103.0" y1="57.0" x2="111.5" y2="57.0"/><line x1="583.3" y1="57.0" x2="574.8" y2="57.0"/><line x1="103.0" y1="371.4" x2="107.5" y2="371.4"/><line x1="583.3" y1="371.4" x2="578.8" y2="371.4"/><line x1="103.0" y1="325.6" x2="107.5" y2="325.6"/><line x1="583.3" y1="325.6" x2="578.8" y2="325.6"/><line x1="103.0" y1="279.8" x2="107.5" y2="279.8"/><line x1="583.3" y1="279.8" x2="578.8" y2="279.8"/><line x1="103.0" y1="234.0" x2="107.5" y2="234.0"/><line x1="583.3" y1="234.0" x2="578.8" y2="234.0"/><line x1="103.0" y1="348.5" x2="111.5" y2="348.5"/><line x1="583.3" y1="348.5" x2="574.8" y2="348.5"/><line x1="103.0" y1="302.7" x2="111.5" y2="302.7"/><line x1="583.3" y1="302.7" x2="574.8" y2="302.7"/><line x1="103.0" y1="256.9" x2="111.5" y2="256.9"/><line x1="583.3" y1="256.9" x2="574.8" y2="256.9"/><line x1="103.0" y1="545.9" x2="107.5" y2="545.9"/><line x1="583.3" y1="545.9" x2="578.8" y2="545.9"/><line x1="103.0" y1="485.4" x2="107.5" y2="485.4"/><line x1="583.3" y1="485.4" x2="578.8" y2="485.4"/><line x1="103.0" y1="424.9" x2="107.5" y2="424.9"/><line x1="583.3" y1="424.9" x2="578.8" y2="424.9"/><line x1="103.0" y1="515.6" x2="111.5" y2="515.6"/><line x1="583.3" y1="515.6" x2="574.8" y2="515.6"/><line x1="103.0" y1="455.1" x2="111.5" y2="455.1"/><line x1="583.3" y1="455.1" x2="574.8" y2="455.1"/><line x1="103.0" y1="735.1" x2="107.5" y2="735.1"/><line x1="583.3" y1="735.1" x2="578.8" y2="735.1"/><line x1="103.0" y1="689.6" x2="107.5" y2="689.6"/><line x1="583.3" y1="689.6" x2="578.8" y2="689.6"/><line x1="103.0" y1="644.2" x2="107.5" y2="644.2"/><line x1="583.3" y1="644.2" x2="578.8" y2="644.2"/><line x1="103.0" y1="598.7" x2="107.5" y2="598.7"/><line x1="583.3" y1="598.7" x2="578.8" y2="598.7"/><line x1="103.0" y1="712.3" x2="111.5" y2="712.3"/><line x1="583.3" y1="712.3" x2="574.8" y2="712.3"/><line x1="103.0" y1="666.9" x2="111.5" y2="666.9"/><line x1="583.3" y1="666.9" x2="574.8" y2="666.9"/><line x1="103.0" y1="621.4" x2="111.5" y2="621.4"/><line x1="583.3" y1="621.4" x2="574.8" y2="621.4"/></g><g fill="#000"><text x="102.8" y="16" text-anchor="middle" font-size="19.5">0.01</text><text x="102.8" y="784" text-anchor="middle" font-size="19.5">0.01</text><text x="297.0" y="16" text-anchor="middle" font-size="19.5">0.1</text><text x="297.0" y="784" text-anchor="middle" font-size="19.5">0.1</text><text x="491.2" y="16" text-anchor="middle" font-size="19.5">1</text><text x="491.2" y="784" text-anchor="middle" font-size="19.5">1</text><text x="92.8" y="263.9" text-anchor="end" font-size="19.5">750</text><text x="92.8" y="309.7" text-anchor="end" font-size="19.5">500</text><text x="92.8" y="355.5" text-anchor="end" font-size="19.5">250</text><text x="92.8" y="401.3" text-anchor="end" font-size="19.5">0</text><text x="92.8" y="583.0" text-anchor="end" font-size="19.5">800</text><text x="92.8" y="628.4" text-anchor="end" font-size="19.5">600</text><text x="92.8" y="673.9" text-anchor="end" font-size="19.5">400</text><text x="92.8" y="719.3" text-anchor="end" font-size="19.5">200</text><text x="92.8" y="764.8" text-anchor="end" font-size="19.5">0</text><text x="593.5" y="64.0" font-size="19.5">3x10<tspan font-size="12" dy="-7">3</tspan></text><text x="593.5" y="115.5" font-size="19.5">2x10<tspan font-size="12" dy="-7">3</tspan></text><text x="593.5" y="167.0" font-size="19.5">1x10<tspan font-size="12" dy="-7">3</tspan></text><text x="593.5" y="218.5" font-size="19.5">0</text><text x="593.5" y="401.6" font-size="19.5">249</text><text x="593.5" y="462.1" font-size="19.5">166</text><text x="593.5" y="522.6" font-size="19.5">83</text><text x="593.5" y="583.1" font-size="19.5">0</text><text x="106.5" y="57.2" font-size="24">(a)</text><text x="110.0" y="236.2" font-size="24">(b)</text><text x="107.3" y="417.7" font-size="24">(c)</text><text x="107.6" y="600.4" font-size="24">(d)</text><text x="342.6" y="820.5" text-anchor="middle" font-size="24">Energy (eV)</text><g transform="translate(24.1,600.0) rotate(-90)"><text transform="translate(36.55,0.00) scale(1.0130,1)" font-size="24.00">Optical conductivity</text><text x="253.11" y="0.00" font-size="24.00">(</text><text x="260.64" y="0" font-size="25">&#937;</text><text x="279.99" y="-10" font-size="16">-1</text><text x="295.44" y="0" font-size="24">cm</text><text x="326.79" y="-10" font-size="16">-1</text><text x="343.06" y="0" font-size="24">)</text></g></g><g fill="#f00"><text x="110.50" y="125.60" font-size="12.80" font-family="Liberation Serif">ω</text><text x="119.76" y="128.90" font-size="8.80">0</text><text x="128.13" y="125.60" font-size="13.80">=</text><text x="139.86" y="125.60" font-size="13.80">0</text><text x="151.91" y="125.60" font-size="13.80">cm</text><text x="170.61" y="119.60" font-size="8.80">-1</text><text x="111.70" y="157.00" font-size="12.80" font-family="Liberation Serif">ω</text><text x="120.96" y="160.30" font-size="8.80">0</text><text x="128.93" y="157.00" font-size="13.80">=</text><text x="142.25" y="157.00" font-size="13.80">1730</text><text x="176.61" y="157.00" font-size="13.80">cm</text><text x="195.71" y="152.00" font-size="8.80">-1</text></g><line x1="181.6" y1="122.7" x2="207" y2="101" stroke="#f00" stroke-width="1.1"/><path d="M214.8,94.2 L203.4,100.2 L207.9,104.7 Z" fill="#f00"/><line x1="208.5" y1="154.3" x2="240" y2="159.6" stroke="#f00" stroke-width="1.1"/><path d="M248.3,160.9 L237.1,156.6 L236.3,162.3 Z" fill="#f00"/><text x="412.57" y="439.00" font-size="25.50" font-family="Liberation Serif" fill="#00f">Γ</text><text x="427.54" y="445.00" font-size="16.50" fill="#00f">1</text><line x1="432.2" y1="449.7" x2="448" y2="508" stroke="#00f" stroke-width="1.2"/><path d="M450.9,518 L445.3,507.6 L451.3,506.1 Z" fill="#00f"/><text x="494.33" y="447.30" font-size="17.30">JDOS</text><line x1="511" y1="452.8" x2="525.5" y2="512" stroke="#000" stroke-width="1"/><path d="M527.9,521.6 L522.4,510.1 L527.8,509.5 Z" fill="#000"/><text x="463.58" y="655.90" font-size="23.00">X</text><text x="479.90" y="663.20" font-size="15.80">1</text><line x1="475.4" y1="665.1" x2="475.4" y2="730" stroke="#000" stroke-width="1"/><path d="M475.4,740.8 L472.7,728.8 L478.6,728.8 Z" fill="#000"/></svg></body></html>
